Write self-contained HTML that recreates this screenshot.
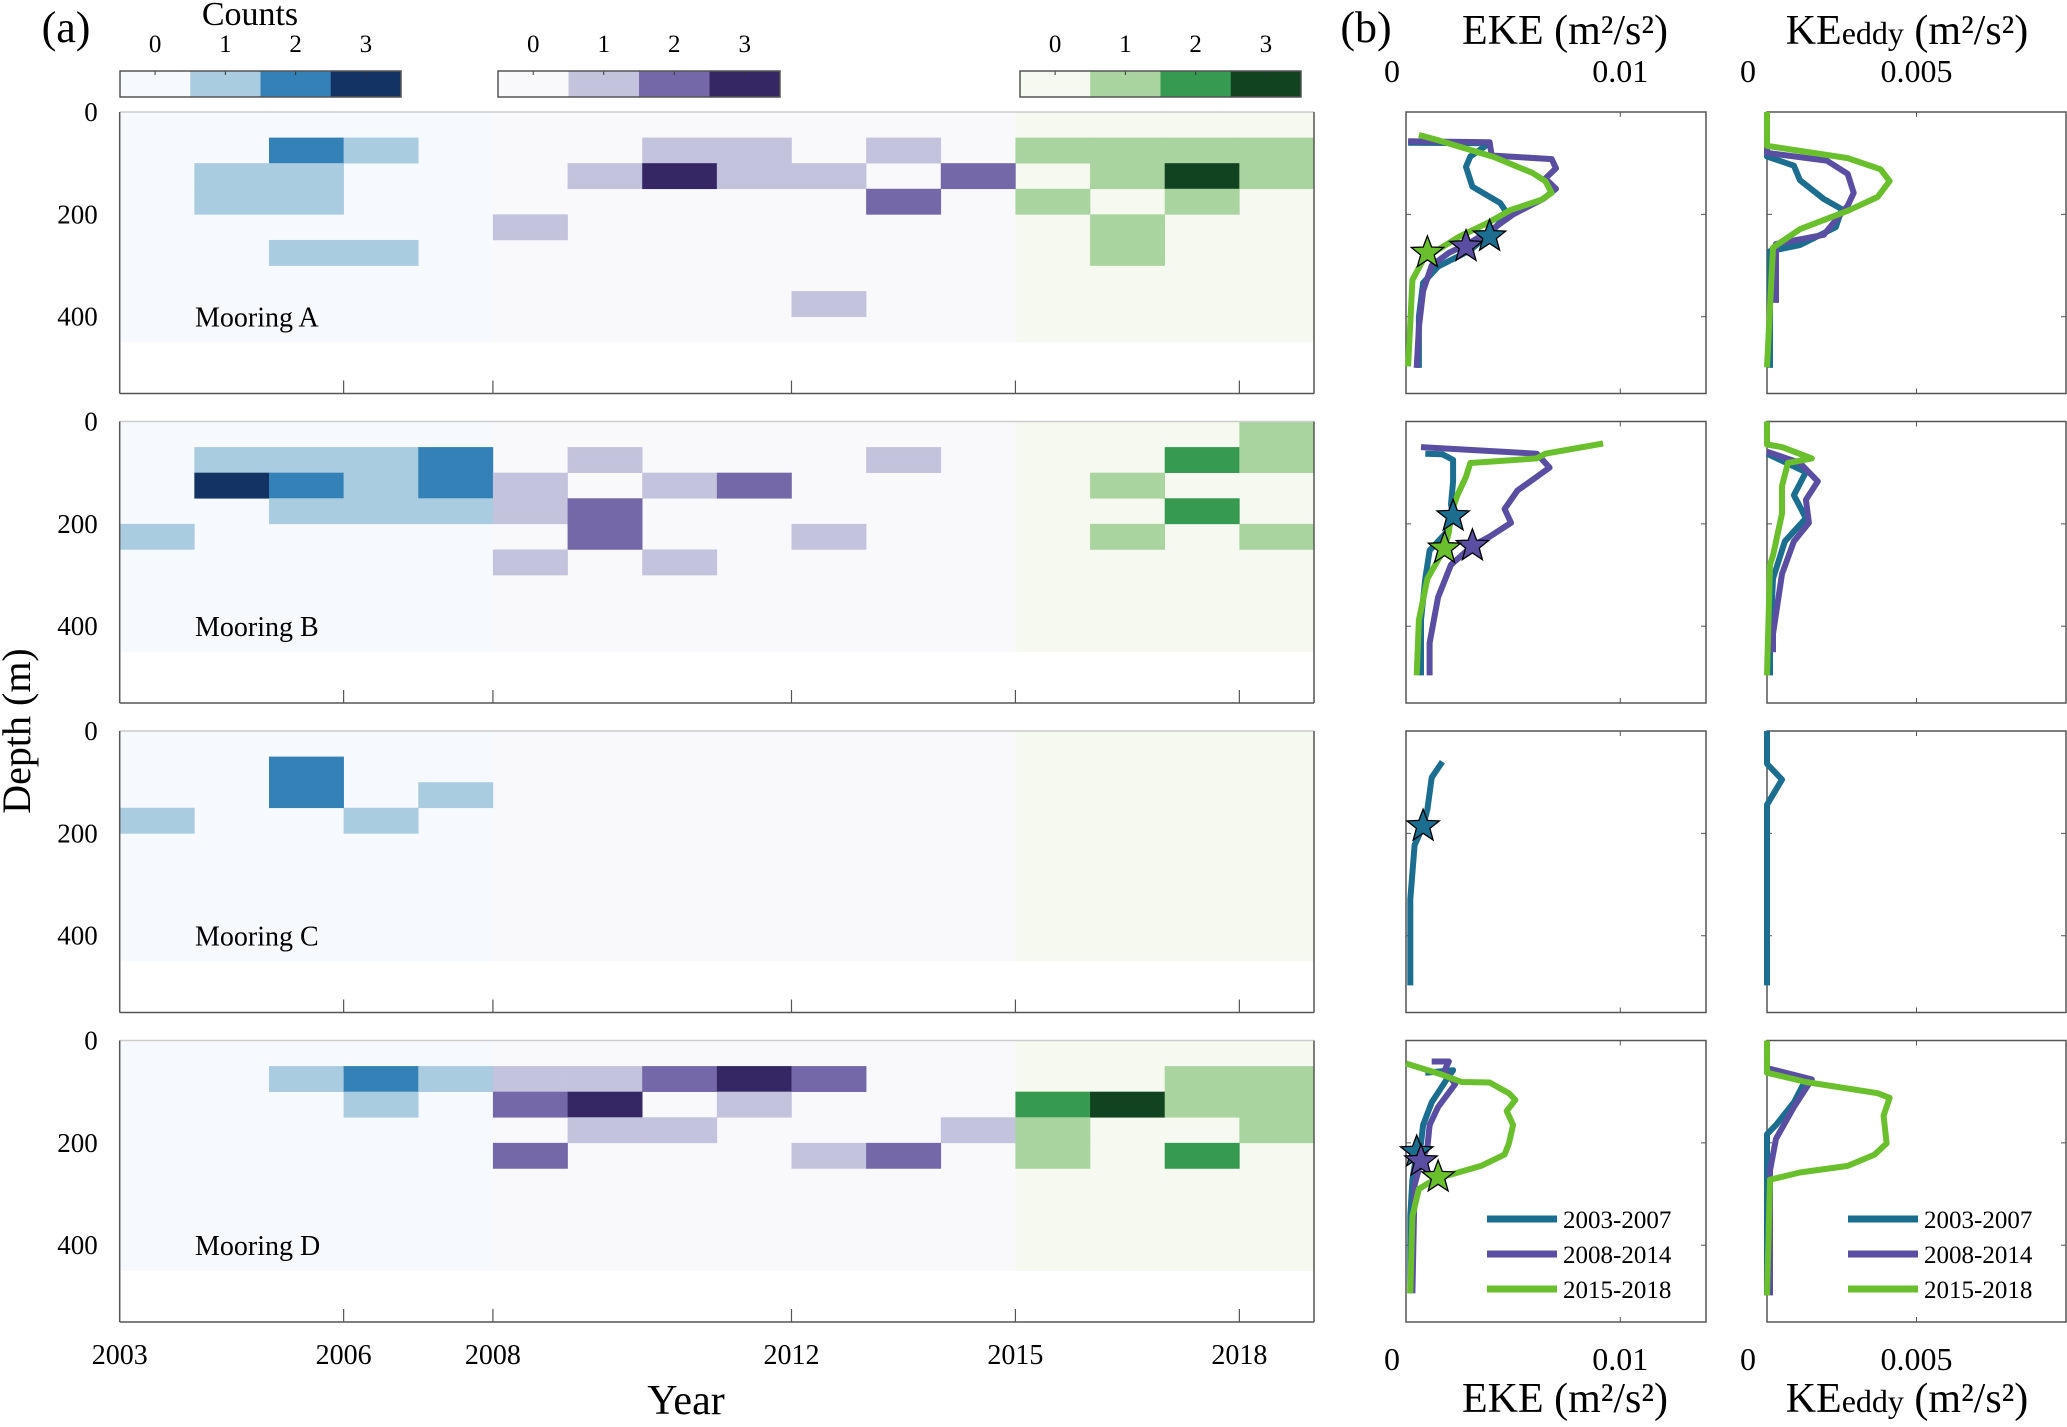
<!DOCTYPE html>
<html><head><meta charset="utf-8"><style>
html,body{margin:0;padding:0;background:#fff;}
svg{display:block;font-family:"Liberation Serif",serif;}
</style></head><body>
<svg id="fig" width="2067" height="1427" viewBox="0 0 2067 1427" xmlns="http://www.w3.org/2000/svg">
<g id="root"></g>
</svg>
<script>
// ---- heatmap data: [year, depthBinStart(m), count]
const years = [2003,2006,2008,2012,2015,2018];
const depthTicks = [0,200,400];
const moorings = ["A","B","C","D"];
const cellsA = [[2005,50,2],[2006,50,1],[2004,100,1],[2005,100,1],[2004,150,1],[2005,150,1],[2005,250,1],[2006,250,1],
 [2010,50,1],[2011,50,1],[2013,50,1],[2009,100,1],[2010,100,3],[2011,100,1],[2012,100,1],[2014,100,2],[2013,150,2],[2008,200,1],[2012,350,1],
 [2015,50,1],[2016,50,1],[2017,50,1],[2018,50,1],[2016,100,1],[2017,100,3],[2018,100,1],[2015,150,1],[2017,150,1],[2016,200,1],[2016,250,1]];
const cellsB = [[2004,50,1],[2005,50,1],[2006,50,1],[2007,50,2],[2004,100,3],[2005,100,2],[2006,100,1],[2007,100,2],[2005,150,1],[2006,150,1],[2007,150,1],[2003,200,1],
 [2009,50,1],[2013,50,1],[2008,100,1],[2010,100,1],[2011,100,2],[2008,150,1],[2009,150,2],[2009,200,2],[2012,200,1],[2008,250,1],[2010,250,1],
 [2018,0,1],[2017,50,2],[2018,50,1],[2016,100,1],[2017,150,2],[2016,200,1],[2018,200,1]];
const cellsC = [[2005,50,2],[2005,100,2],[2007,100,1],[2003,150,1],[2006,150,1]];
const cellsD = [[2005,50,1],[2006,50,2],[2007,50,1],[2006,100,1],
 [2008,50,1],[2009,50,1],[2010,50,2],[2011,50,3],[2012,50,2],[2008,100,2],[2009,100,3],[2011,100,1],[2009,150,1],[2010,150,1],[2014,150,1],[2008,200,2],[2012,200,1],[2013,200,2],
 [2017,50,1],[2018,50,1],[2015,100,2],[2016,100,3],[2017,100,1],[2018,100,1],[2015,150,1],[2018,150,1],[2015,200,1],[2017,200,2]];
const cellSets = [cellsA,cellsB,cellsC,cellsD];
const blues = ["#f6f9fe","#a9cce0","#3381b7","#123363"];
const purples = ["#f9f9fc","#c4c3dd","#7468a8","#352764"];
const greens = ["#f5f9f0","#aad49f","#369a50","#114321"];
const periodLabels = ["2003-2007","2008-2014","2015-2018"];
const seriesColors = ["#1c6e91","#5a4ea3","#6abf2c"];

// ---- profile data: [depth(m), value]
const ekeA = [
 [[60,0.0001],[61,0.0039],[87,0.0030],[107,0.0028],[146,0.0031],[178,0.0044],[197,0.0047],[230,0.0041],[270,0.0030],[302,0.0015],[334,0.0008],[400,0.0006],[500,0.0006]],
 [[57,0.0001],[59,0.0039],[85,0.0040],[92,0.0068],[110,0.0070],[130,0.0065],[150,0.0070],[170,0.0064],[200,0.0050],[230,0.0040],[255,0.0030],[275,0.0020],[300,0.0012],[350,0.0008],[420,0.0006],[500,0.0005]],
 [[45,0.0006],[55,0.0015],[88,0.0041],[119,0.0059],[135,0.0065],[158,0.0068],[172,0.0063],[191,0.0049],[217,0.0038],[243,0.0025],[269,0.0015],[289,0.0008],[328,0.0003],[412,0.0002],[497,0.0001]]];
const ekeStarsA = [[243,0.0039],[263,0.0028],[275,0.0010]];
const keA = [
 [[0,0],[87,0],[105,0.0009],[133,0.0011],[170,0.0019],[190,0.0025],[225,0.0023],[260,0.0011],[272,0.0001],[500,0.0001]],
 [[0,0],[80,0],[95,0.0020],[121,0.0027],[158,0.0029],[183,0.0027],[240,0.0019],[258,0.0003],[373,0.0003]],
 [[0,0],[66,0],[76,0.0011],[90,0.0027],[112,0.0038],[135,0.0041],[166,0.0037],[193,0.0027],[229,0.0011],[265,0.0002],[499,0]]];
const ekeB = [
 [[63,0.0009],[64,0.0017],[75,0.0022],[117,0.0022],[162,0.0021],[185,0.0022],[216,0.0019],[252,0.0011],[307,0.0009],[388,0.0007],[496,0.0007]],
 [[50,0.0007],[63,0.0061],[90,0.0067],[108,0.0061],[135,0.0052],[171,0.0046],[198,0.0049],[225,0.0039],[243,0.0031],[280,0.0021],[343,0.0015],[433,0.0011],[496,0.0011]],
 [[43,0.0092],[63,0.0065],[72,0.0061],[81,0.0030],[108,0.0028],[144,0.0024],[180,0.0021],[216,0.0020],[248,0.0018],[307,0.0010],[388,0.0006],[496,0.0005]]];
const ekeStarsB = [[185,0.0022],[243,0.0031],[248,0.0018]];
const keB = [
 [[63,0],[99,0.0013],[144,0.0009],[189,0.0013],[234,0.0006],[307,0.0002],[433,0.0001],[496,0.0001]],
 [[59,0],[81,0.0011],[117,0.0017],[153,0.0013],[198,0.0014],[234,0.0009],[298,0.0005],[415,0.0002],[451,0.0002]],
 [[0,0],[45,0],[50,0.0005],[72,0.0015],[81,0.0007],[126,0.0005],[180,0.0005],[262,0.0002],[280,0.0001],[496,0]]];
const ekeC = [[[60,0.0017],[91,0.0012],[153,0.0010],[186,0.0008],[223,0.0004],[329,0.0002],[497,0.0002]]];
const ekeStarsC = [[186,0.0008]];
const keC = [[[0,0],[64,0],[95,0.0005],[144,0],[497,0]]];
const ekeD = [
 [[63,0.0009],[58,0.0022],[76,0.0019],[121,0.0012],[165,0.0008],[201,0.0007],[218,0.0005],[272,0.0003],[343,0.0002],[494,0.0002]],
 [[41,0.0012],[41,0.0020],[58,0.0018],[85,0.0023],[130,0.0015],[165,0.0011],[209,0.0010],[236,0.0007],[282,0.0004],[494,0.0003]],
 [[45,0],[67,0.0017],[81,0.0026],[82,0.0039],[103,0.0048],[116,0.0051],[138,0.0047],[165,0.0050],[201,0.0048],[223,0.0046],[245,0.0035],[263,0.0020],[267,0.0015],[290,0.0006],[343,0.0003],[494,0.0002]]];
const ekeStarsD = [[218,0.0005],[236,0.0007],[267,0.0015]];
const keD = [
 [[63,0],[76,0.0013],[121,0.0009],[165,0.0003],[183,0],[498,0]],
 [[54,0],[76,0.0015],[130,0.0009],[192,0.0003],[254,0.0001],[498,0.0001]],
 [[0,0],[63,0],[81,0.0013],[103,0.0037],[112,0.0041],[147,0.0039],[201,0.0040],[223,0.0036],[245,0.0027],[258,0.0011],[272,0.0001],[498,0]]];
const ekeSets=[ekeA,ekeB,ekeC,ekeD], keSets=[keA,keB,keC,keD], starSets=[ekeStarsA,ekeStarsB,ekeStarsC,ekeStarsD];
const ekeTicks=[0,0.01], keTicks=[0,0.005];

// ---- geometry
const NS="http://www.w3.org/2000/svg";
const root=document.getElementById("root");
const rowTop=[112,421.5,731,1040.5], rowH=281.5, dMax=550;
const hx0=119.7, hx1=1314, y0yr=2003, y1yr=2019;
const ex0=1406, ex1=1706, eMax=0.014;
const kx0=1767, kx1=2066, kMax=0.01;
function xYear(y){return hx0+(y-y0yr)/(y1yr-y0yr)*(hx1-hx0);}
function yDepth(r,d){return rowTop[r]+d/dMax*rowH;}
function xE(v){return ex0+v/eMax*(ex1-ex0);}
function xK(v){return kx0+v/kMax*(kx1-kx0);}
function el(tag,attrs,parent){const e=document.createElementNS(NS,tag);for(const k in attrs)e.setAttribute(k,attrs[k]);(parent||root).appendChild(e);return e;}
function txt(s,x,y,size,anchor,parent){const t=el("text",{x:x,y:y,"font-size":size,"text-anchor":anchor||"middle",fill:"#000"},parent);t.textContent=s;return t;}
function scaleFor(yr){return yr<2008?blues:(yr<2015?purples:greens);}

let t;
t=txt("(a)",66,42,44);
t=txt("(b)",1366,42,44);
t=txt("Counts",250,25,34);

const cbars=[[120,401,blues,"blue"],[498,780,purples,"purple"],[1020,1301,greens,"green"]];
cbars.forEach(function(cb){
  const g=el("g",{});
  
  
  const w=(cb[1]-cb[0])/4;
  for(let i=0;i<4;i++){
    const r=el("rect",{x:cb[0]+i*w,y:71,width:w+0.5,height:26,fill:cb[2][i]},g);
    
    
    el("line",{x1:cb[0]+i*w+w/2,y1:71,x2:cb[0]+i*w+w/2,y2:75,stroke:"#333","stroke-width":1},g);
    const lt=txt(String(i),cb[0]+i*w+w/2,52,25,"middle",g);
    
    
  }
  el("rect",{x:cb[0],y:71,width:cb[1]-cb[0],height:26,fill:"none",stroke:"#555","stroke-width":1.5},g);
});

for(let r=0;r<4;r++){
  const g=el("g",{});
  
  
  [[2003,2008,blues],[2008,2015,purples],[2015,2019,greens]].forEach(function(p){
    const b=el("rect",{x:xYear(p[0]),y:yDepth(r,0),width:xYear(p[1])-xYear(p[0]),height:yDepth(r,450)-yDepth(r,0),fill:p[2][0]},g);
    
    
  });
  cellSets[r].forEach(function(c){
    const rc=el("rect",{x:xYear(c[0]),y:yDepth(r,c[1]),width:xYear(c[0]+1)-xYear(c[0])+0.3,height:yDepth(r,c[1]+50)-yDepth(r,c[1])+0.3,fill:scaleFor(c[0])[c[2]]},g);
    
    
  });
  const top=rowTop[r], bot=rowTop[r]+rowH;
  el("line",{x1:hx0,y1:top,x2:hx1,y2:top,stroke:"#ccc","stroke-width":1.5},g);
  el("line",{x1:hx0,y1:bot,x2:hx1,y2:bot,stroke:"#555","stroke-width":1.5},g);
  el("line",{x1:hx0,y1:top,x2:hx0,y2:bot,stroke:"#555","stroke-width":1.5},g);
  el("line",{x1:hx1,y1:top,x2:hx1,y2:bot,stroke:"#555","stroke-width":1.5},g);
  years.forEach(function(y){ if(y>2003) el("line",{x1:xYear(y),y1:bot,x2:xYear(y),y2:bot-13,stroke:"#555","stroke-width":1.2},g);});
  depthTicks.forEach(function(d){
    const tl=txt(String(d),hx0-22,yDepth(r,d)+9,27,"end",g);
    
    
  });
  const ml=txt("Mooring "+moorings[r],195,yDepth(r,400)+10,28,"start",g);
  
  
}
years.forEach(function(y){
  const yl=txt(String(y),xYear(y),1364,28);
  
  
});
t=txt("Year",686,1414,42);
t=txt("Depth (m)",0,0,40);t.setAttribute("transform","translate(30,731) rotate(-90)");


function star(cx,cy,R,fill,g){
  let pts=[];for(let i=0;i<10;i++){const a=-Math.PI/2+i*Math.PI/5;const rr=i%2?R*0.42:R;pts.push((cx+rr*Math.cos(a)).toFixed(1)+","+(cy+rr*Math.sin(a)).toFixed(1));}
  return el("polygon",{points:pts.join(" "),fill:fill,stroke:"#000","stroke-width":1.3},g);
}
function panel(r,sets,xf,x0,x1,ticks,kind,stars){
  const g=el("g",{});
  
  
  const top=rowTop[r], bot=top+rowH;
  el("rect",{x:x0,y:top,width:x1-x0,height:rowH,fill:"#fff",stroke:"#555","stroke-width":1.5},g);
  ticks.forEach(function(v){ if(v>0){const x=xf(v);el("line",{x1:x,y1:top,x2:x,y2:top+5,stroke:"#555"},g);el("line",{x1:x,y1:bot,x2:x,y2:bot-5,stroke:"#555"},g);} });
  [200,400].forEach(function(d){const y=yDepth(r,d);el("line",{x1:x0,y1:y,x2:x0+5,y2:y,stroke:"#555"},g);el("line",{x1:x1,y1:y,x2:x1-5,y2:y,stroke:"#555"},g);});
  sets.forEach(function(s,i){
    const ci = sets.length===1?0:i;
    const p=el("polyline",{points:s.map(function(q){return xf(q[1]).toFixed(1)+","+yDepth(r,q[0]).toFixed(1);}).join(" "),fill:"none",stroke:seriesColors[ci],"stroke-width":6,"stroke-linejoin":"round"},g);
    
    
  });
  if(stars){stars.forEach(function(s,i){
    const ci = stars.length===1?0:i;
    const st=star(xf(s[1]),yDepth(r,s[0]),17,seriesColors[ci],g);
    
    
  });}
  if(r===3){
    periodLabels.forEach(function(lbl,i){
      const y=1219+i*35;
      const ln=el("line",{x1:x0+81,y1:y,x2:x0+151,y2:y,stroke:seriesColors[i],"stroke-width":7},g);
      
      
      const lt=txt(lbl,x0+157,y+9,25,"start",g);
      
      
    });
  }
}
for(let r=0;r<4;r++){
  panel(r,ekeSets[r],xE,ex0,ex1,ekeTicks,"eke",starSets[r]);
  panel(r,keSets[r],xK,kx0,kx1,keTicks,"keeddy",null);
}
[[82,"top"],[1370,"bottom"]].forEach(function(p){
  const y=p[0];
  t=txt("0",1392,y,32);
  t=txt("0.01",xE(0.01),y,32);
  t=txt("0",1748,y,32);
  t=txt("0.005",xK(0.005),y,32);
});
[[44,"top"],[1412,"bottom"]].forEach(function(p){
  t=txt("EKE (m²/s²)",1565,p[0],42);
  t=el("text",{x:1907,y:p[0],"font-size":42,"text-anchor":"middle",fill:"#000"});
  
  t.innerHTML='KE<tspan font-size="32">eddy</tspan> (m²/s²)';
});
</script>
</body></html>
